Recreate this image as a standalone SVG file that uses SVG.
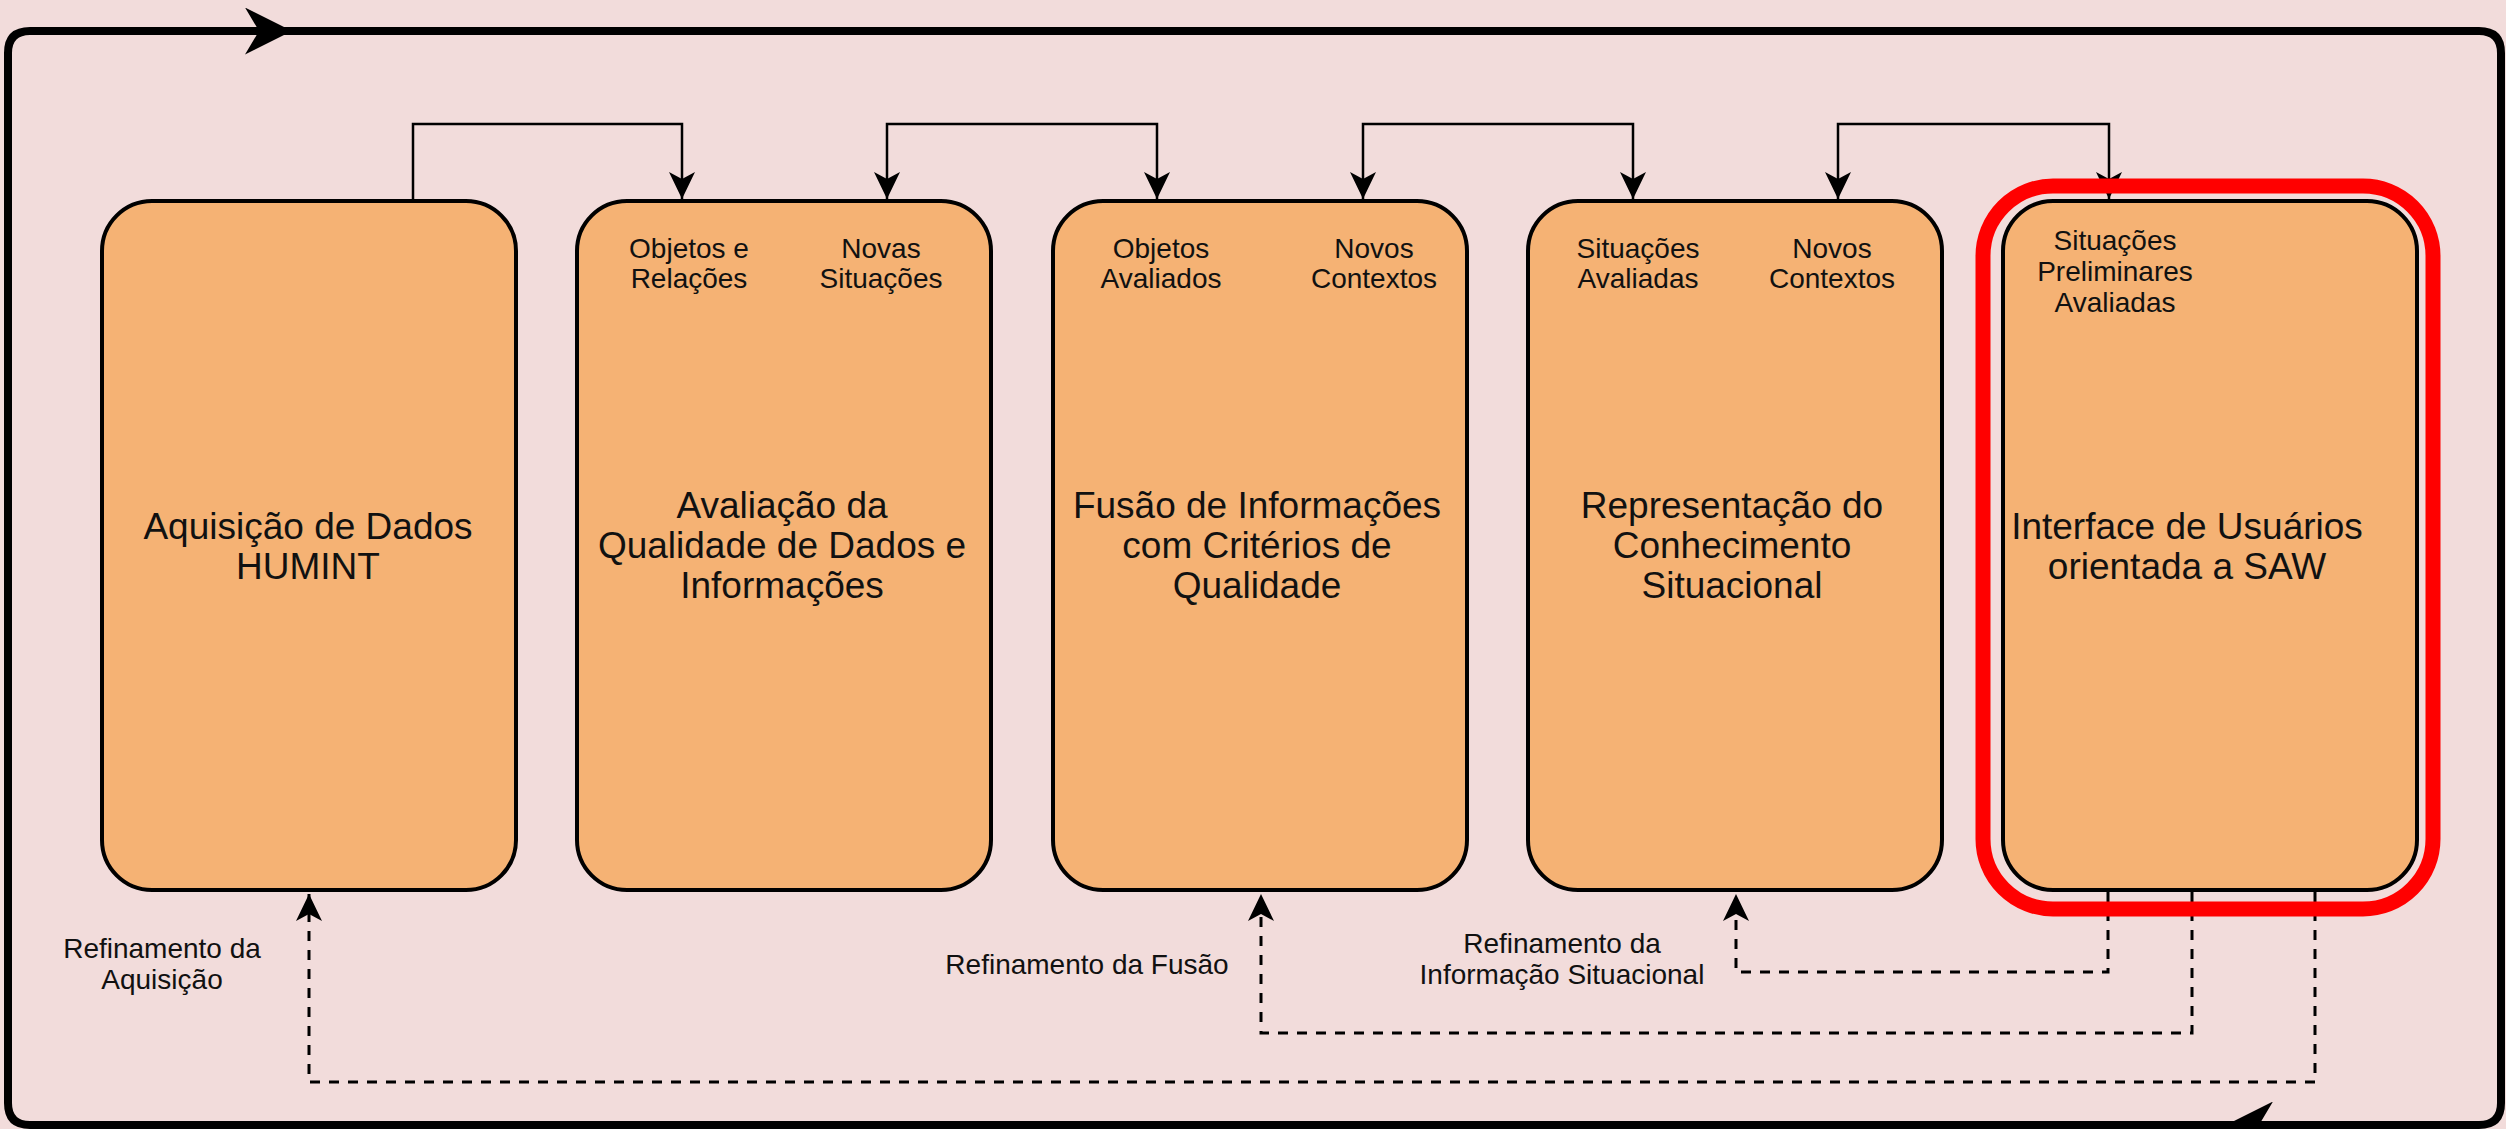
<svg xmlns="http://www.w3.org/2000/svg" width="2506" height="1129" viewBox="0 0 2506 1129">
<defs>
<style>
.node{fill:#F5B274;stroke:#000;stroke-width:4}
.title{font-family:"Liberation Sans",Arial,Helvetica,sans-serif;font-size:37px;fill:#111;text-anchor:middle}
.sub{font-family:"Liberation Sans",Arial,Helvetica,sans-serif;font-size:28px;fill:#111;text-anchor:middle}
.conn{fill:none;stroke:#000;stroke-width:2.5}
.dash{fill:none;stroke:#000;stroke-width:3;stroke-dasharray:10 9}
.frame{fill:none;stroke:#000;stroke-width:8}
</style>
<marker id="arr" markerUnits="userSpaceOnUse" viewBox="0 0 27 26" markerWidth="27" markerHeight="26" refX="27" refY="13" orient="auto-start-reverse">
<path d="M0,0 L27,13 L0,26 L7,13 Z" fill="#000"/>
</marker>
<marker id="big" markerUnits="userSpaceOnUse" viewBox="0 0 48 47" markerWidth="48" markerHeight="47" refX="47" refY="23.5" orient="auto">
<path d="M0,0 L47,23.5 L0,47 L14,23.5 Z" fill="#000"/>
</marker>
</defs>
<rect width="2506" height="1129" fill="#F2DCDB"/>
<g id="frame">
<path class="frame" d="M2226,1125 H30 Q8,1125 8,1103 V53 Q8,31 30,31 H292" marker-end="url(#big)"/>
<path class="frame" d="M290,31 H2479 Q2501,31 2501,53 V1103 Q2501,1125 2479,1125 H2226" marker-end="url(#big)"/>
</g>
<g id="connectors">
<path class="conn" d="M413,199 V124 H682 V199" marker-end="url(#arr)"/>
<path class="conn" d="M887,199 V124 H1157 V199" marker-start="url(#arr)" marker-end="url(#arr)"/>
<path class="conn" d="M1363,199 V124 H1633 V199" marker-start="url(#arr)" marker-end="url(#arr)"/>
<path class="conn" d="M1838,199 V124 H2109 V199" marker-start="url(#arr)" marker-end="url(#arr)"/>
<path class="dash" d="M2315,892 V1082 H309 V894" marker-end="url(#arr)"/>
<path class="dash" d="M2192,892 V1033 H1261 V894" marker-end="url(#arr)"/>
<path class="dash" d="M2108,892 V972 H1736 V894" marker-end="url(#arr)"/>
</g>
<g id="node1">
<rect class="node" x="102" y="201" width="414" height="689" rx="50"/>
<text class="title" x="308"><tspan x="308" y="539">Aquisição de Dados</tspan><tspan x="308" y="579">HUMINT</tspan></text>
</g>
<g id="node2">
<rect class="node" x="577" y="201" width="414" height="689" rx="50"/>
<text class="sub"><tspan x="689" y="258">Objetos e</tspan><tspan x="689" y="288">Relações</tspan></text>
<text class="sub"><tspan x="881" y="258">Novas</tspan><tspan x="881" y="288">Situações</tspan></text>
<text class="title"><tspan x="782" y="518">Avaliação da</tspan><tspan x="782" y="558">Qualidade de Dados e</tspan><tspan x="782" y="598">Informações</tspan></text>
</g>
<g id="node3">
<rect class="node" x="1053" y="201" width="414" height="689" rx="50"/>
<text class="sub"><tspan x="1161" y="258">Objetos</tspan><tspan x="1161" y="288">Avaliados</tspan></text>
<text class="sub"><tspan x="1374" y="258">Novos</tspan><tspan x="1374" y="288">Contextos</tspan></text>
<text class="title"><tspan x="1257" y="518">Fusão de Informações</tspan><tspan x="1257" y="558">com Critérios de</tspan><tspan x="1257" y="598">Qualidade</tspan></text>
</g>
<g id="node4">
<rect class="node" x="1528" y="201" width="414" height="689" rx="50"/>
<text class="sub"><tspan x="1638" y="258">Situações</tspan><tspan x="1638" y="288">Avaliadas</tspan></text>
<text class="sub"><tspan x="1832" y="258">Novos</tspan><tspan x="1832" y="288">Contextos</tspan></text>
<text class="title"><tspan x="1732" y="518">Representação do</tspan><tspan x="1732" y="558">Conhecimento</tspan><tspan x="1732" y="598">Situacional</tspan></text>
</g>
<g id="node5">
<rect class="node" x="2003" y="201" width="414" height="689" rx="50"/>
<text class="sub"><tspan x="2115" y="250">Situações</tspan><tspan x="2115" y="281">Preliminares</tspan><tspan x="2115" y="312">Avaliadas</tspan></text>
<text class="title"><tspan x="2187" y="539">Interface de Usuários</tspan><tspan x="2187" y="579">orientada a SAW</tspan></text>
</g>
<g id="highlight">
<rect x="1983" y="186" width="450" height="723" rx="70" fill="none" stroke="#FF0000" stroke-width="15"/>
</g>
<g id="labels">
<text class="sub"><tspan x="162" y="958">Refinamento da</tspan><tspan x="162" y="989">Aquisição</tspan></text>
<text class="sub" x="1087" y="974">Refinamento da Fusão</text>
<text class="sub"><tspan x="1562" y="953">Refinamento da</tspan><tspan x="1562" y="984">Informação Situacional</tspan></text>
</g>
</svg>
